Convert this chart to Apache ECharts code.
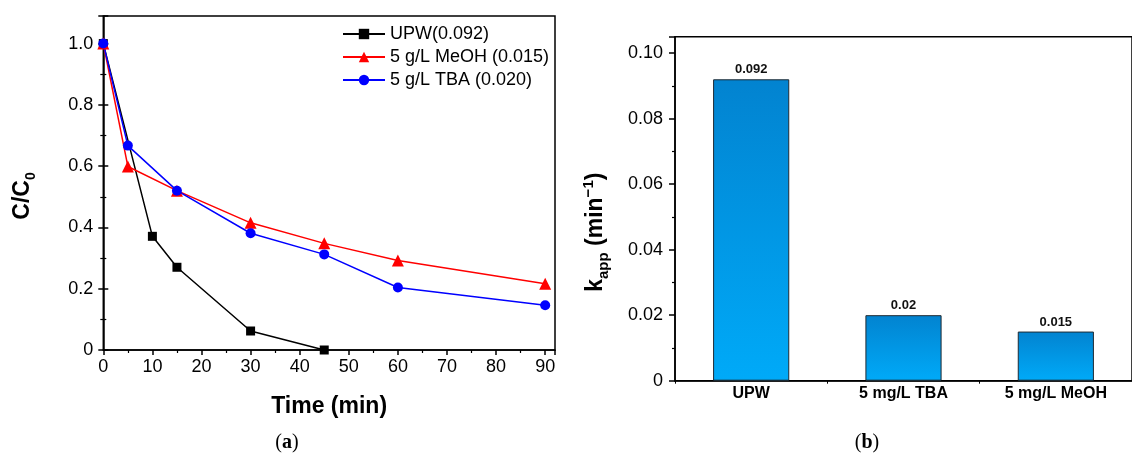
<!DOCTYPE html>
<html>
<head>
<meta charset="utf-8">
<script src="https://cdn.jsdelivr.net/npm/echarts@6/dist/echarts.min.js"></script>
<style>
html,body{margin:0;padding:0;background:#fff;}
#c{width:1132px;height:454px;}
</style>
</head>
<body>
<div id="c"></div>
<script>
// ---- Panel (a) data ----
const upwTime = [0, 10, 15, 30, 45];
const upwValues = [1.0, 0.371, 0.270, 0.062, 0.0];
const meohTime = [0, 5, 15, 30, 45, 60, 90];
const meohValues = [1.0, 0.599, 0.520, 0.415, 0.348, 0.292, 0.216];
const tbaTime = [0, 5, 15, 30, 45, 60, 90];
const tbaValues = [1.0, 0.667, 0.520, 0.381, 0.312, 0.204, 0.146];
const seriesNames = ['UPW(0.092)', '5 g/L MeOH (0.015)', '5 g/L TBA (0.020)'];

// ---- Panel (b) data ----
const barCategories = ['UPW', '5 mg/L TBA', '5 mg/L MeOH'];
const barValues = [0.092, 0.02, 0.015];
const barLabels = ['0.092', '0.02', '0.015'];

const pairs = (xs, ys) => xs.map((x, i) => [x, ys[i]]);
const FONT = 'Liberation Sans';

const chart = echarts.init(document.getElementById('c'), null, {renderer: 'canvas'});

const axisLineStyle = {color: '#000', width: 1.5};

const option = {
  animation: false,
  backgroundColor: '#fff',
  textStyle: {fontFamily: FONT},
  grid: [
    {left: 103.3, top: 16, right: 577, bottom: 104, show: true, borderColor: '#000', borderWidth: 1.5, backgroundColor: 'transparent'},
    {left: 675, top: 36.7, right: -9.5, bottom: 73.3, show: true, borderColor: '#000', borderWidth: 1.5, backgroundColor: 'transparent'}
  ],
  legend: {
    orient: 'vertical',
    left: 337, top: 20,
    itemWidth: 42, itemHeight: 13, itemGap: 5,
    textStyle: {fontFamily: FONT, fontSize: 18, color: '#000', lineHeight: 18},
    data: seriesNames
  },
  title: [
    {text: '({b|a})', left: 282, top: 428, textAlign: 'center',
     textStyle: {fontFamily: 'Liberation Serif', fontSize: 20, fontWeight: 'normal', color: '#000',
       rich: {b: {fontFamily: 'Liberation Serif', fontSize: 20, fontWeight: 'bold', color: '#000'}}}},
    {text: '({b|b})', left: 862, top: 428, textAlign: 'center',
     textStyle: {fontFamily: 'Liberation Serif', fontSize: 20, fontWeight: 'normal', color: '#000',
       rich: {b: {fontFamily: 'Liberation Serif', fontSize: 20, fontWeight: 'bold', color: '#000'}}}}
  ],
  xAxis: [
    {
      type: 'value', gridIndex: 0, min: 0, max: 92, interval: 10,
      name: 'Time (min)', nameLocation: 'middle', nameGap: 45,
      nameTextStyle: {fontFamily: FONT, fontSize: 23, fontWeight: 'bold', color: '#000'},
      axisLine: {show: true, onZero: false, lineStyle: axisLineStyle},
      axisTick: {show: true, length: 5, lineStyle: axisLineStyle},
      minorTick: {show: true, splitNumber: 2, length: 3, lineStyle: {color: '#000', width: 1.2}},
      axisLabel: {fontFamily: FONT, fontSize: 18, color: '#000', margin: 8, showMaxLabel: false},
      splitLine: {show: false}
    },
    {
      type: 'category', gridIndex: 1, data: barCategories,
      axisLine: {show: true, lineStyle: axisLineStyle},
      axisTick: {show: true, length: 3, lineStyle: {color: '#000', width: 1}},
      axisLabel: {fontFamily: FONT, fontSize: 16, fontWeight: 'bold', color: '#000', margin: 5, interval: 0},
      splitLine: {show: false}
    }
  ],
  yAxis: [
    {
      type: 'value', gridIndex: 0, min: 0, max: 1.09, interval: 0.2,
      name: 'C/C{sub|0}', nameLocation: 'middle', nameGap: 65, nameRotate: 90,
      nameTextStyle: {fontFamily: FONT, fontSize: 23, fontWeight: 'bold', color: '#000', lineHeight: 32,
        padding: [0, 26, 0, 0],
        rich: {sub: {fontFamily: FONT, fontSize: 14, fontWeight: 'bold', color: '#000', verticalAlign: 'bottom', lineHeight: 14}}},
      axisLine: {show: true, onZero: false, lineStyle: axisLineStyle},
      axisTick: {show: true, length: 5, lineStyle: axisLineStyle},
      minorTick: {show: true, splitNumber: 2, length: 3, lineStyle: {color: '#000', width: 1.2}},
      axisLabel: {fontFamily: FONT, fontSize: 18, color: '#000', margin: 10, showMaxLabel: false,
        formatter: v => (v === 0 ? '0' : v.toFixed(1))},
      splitLine: {show: false}
    },
    {
      type: 'value', gridIndex: 0, min: 0, max: 1.09, interval: 0.2, position: 'right',
      axisLine: {show: false},
      axisTick: {show: true, length: 5, lineStyle: axisLineStyle},
      minorTick: {show: true, splitNumber: 2, length: 3, lineStyle: {color: '#000', width: 1.2}},
      axisLabel: {show: false},
      splitLine: {show: false}
    },
    {
      type: 'value', gridIndex: 1, min: 0, max: 0.105, interval: 0.02,
      name: 'k{sub|app} (min{sup|−1})', nameLocation: 'middle', nameGap: 64, nameRotate: 90,
      nameTextStyle: {fontFamily: FONT, fontSize: 23, fontWeight: 'bold', color: '#000', lineHeight: 30,
        padding: [0, 47, 0, 0],
        rich: {
          sub: {fontFamily: FONT, fontSize: 15, fontWeight: 'bold', color: '#000', verticalAlign: 'bottom', lineHeight: 14},
          sup: {fontFamily: FONT, fontSize: 15, fontWeight: 'bold', color: '#000', verticalAlign: 'top', lineHeight: 14}
        }},
      axisLine: {show: true, onZero: false, lineStyle: axisLineStyle},
      axisTick: {show: true, length: 6, lineStyle: axisLineStyle},
      minorTick: {show: true, splitNumber: 2, length: 3, lineStyle: {color: '#000', width: 1.2}},
      axisLabel: {fontFamily: FONT, fontSize: 18, color: '#000', margin: 12, showMaxLabel: false,
        formatter: v => (v === 0 ? '0' : v.toFixed(2))},
      splitLine: {show: false}
    }
  ],
  series: [
    {
      name: seriesNames[0], type: 'line', xAxisIndex: 0, yAxisIndex: 0,
      data: pairs(upwTime, upwValues),
      symbol: 'rect', symbolSize: 9,
      lineStyle: {color: '#000', width: 1.5}, itemStyle: {color: '#000'}
    },
    {
      name: seriesNames[1], type: 'line', xAxisIndex: 0, yAxisIndex: 0,
      data: pairs(meohTime, meohValues),
      symbol: 'triangle', symbolSize: 12,
      lineStyle: {color: '#ff0000', width: 1.5}, itemStyle: {color: '#ff0000'}
    },
    {
      name: seriesNames[2], type: 'line', xAxisIndex: 0, yAxisIndex: 0,
      data: pairs(tbaTime, tbaValues),
      symbol: 'circle', symbolSize: 10,
      lineStyle: {color: '#0000ff', width: 1.5}, itemStyle: {color: '#0000ff'}
    },
    {
      name: 'kapp', type: 'bar', xAxisIndex: 1, yAxisIndex: 2,
      data: barValues, barWidth: '50%',
      itemStyle: {
        color: new echarts.graphic.LinearGradient(0, 0, 0, 1, [
          {offset: 0, color: '#0283d0'},
          {offset: 1, color: '#00aaf8'}
        ]),
        borderColor: '#1f2a33', borderWidth: 1
      },
      label: {show: true, position: 'top', distance: 3, fontFamily: FONT, fontSize: 13, fontWeight: 'bold', color: '#111',
        formatter: p => barLabels[p.dataIndex]}
    }
  ]
};
chart.setOption(option);
</script>
</body>
</html>
